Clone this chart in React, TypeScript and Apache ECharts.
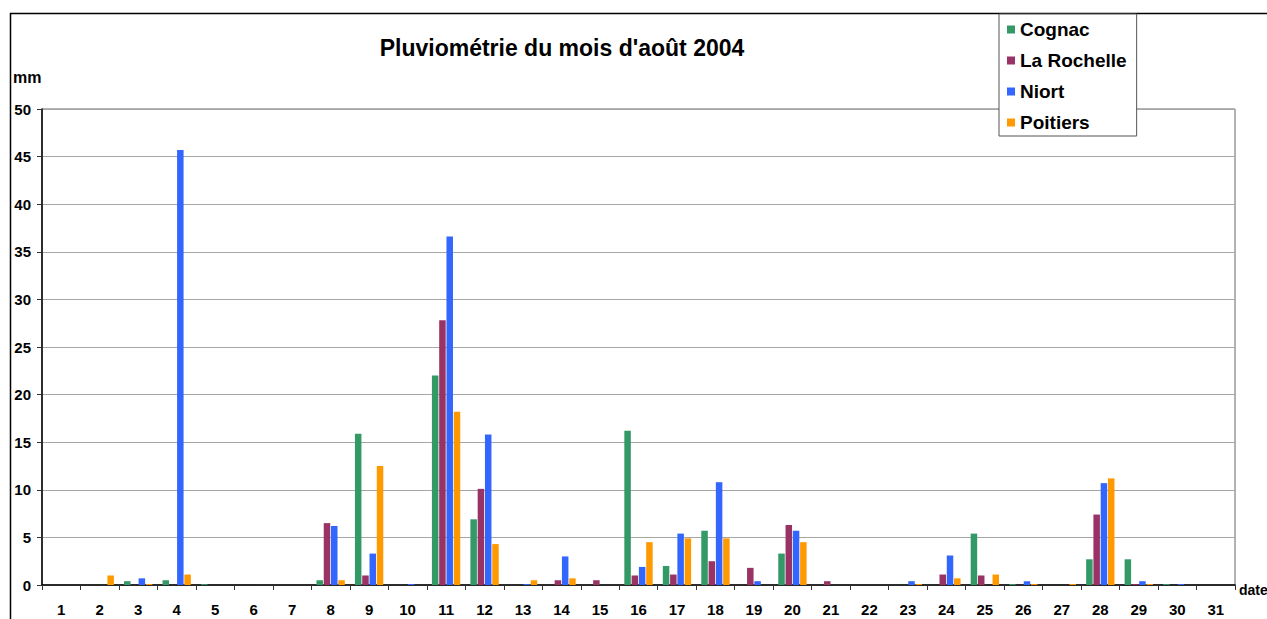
import React, { useEffect, useRef } from "react";
import * as echarts from "echarts";

const days = ["1","2","3","4","5","6","7","8","9","10","11","12","13","14","15","16","17","18","19","20","21","22","23","24","25","26","27","28","29","30","31"];
const cognac =    [0, 0, 0.4, 0.5, 0.1, 0, 0, 0.5, 15.9, 0, 22.0, 6.9, 0, 0, 0, 16.2, 2.0, 5.7, 0, 3.3, 0, 0, 0, 0, 5.4, 0.1, 0, 2.7, 2.7, 0.1, 0];
const laRochelle = [0, 0, 0, 0, 0, 0, 0, 6.5, 1.0, 0, 27.8, 10.1, 0, 0.5, 0.5, 1.0, 1.1, 2.5, 1.8, 6.3, 0.4, 0, 0, 1.1, 1.0, 0, 0, 7.4, 0.1, 0, 0];
const niort =     [0, 0, 0.7, 45.7, 0, 0, 0, 6.2, 3.3, 0.1, 36.6, 15.8, 0.1, 3.0, 0, 1.9, 5.4, 10.8, 0.4, 5.7, 0, 0, 0.4, 3.1, 0, 0.4, 0, 10.7, 0.4, 0.1, 0];
const poitiers =  [0, 1.0, 0.1, 1.1, 0, 0, 0, 0.5, 12.5, 0, 18.2, 4.3, 0.5, 0.7, 0, 4.5, 4.9, 4.9, 0, 4.5, 0, 0, 0.1, 0.7, 1.1, 0.1, 0.1, 11.2, 0.1, 0, 0];
const seriesNames = ["Cognac", "La Rochelle", "Niort", "Poitiers"];
const seriesColors = ["#339966", "#993366", "#3366FF", "#FF9900"];
const yTicks = { min: 0, max: 50, interval: 5 };
const titleText = "Pluviométrie du mois d'août 2004";

const FONT = "'Liberation Sans', Arial, sans-serif";

export default function App() {
  const ref = useRef<HTMLDivElement>(null);
  useEffect(() => {
    if (!ref.current) return;
    const chart = echarts.init(ref.current, null, { renderer: "svg" });
    const values = [cognac, laRochelle, niort, poitiers];
    chart.setOption({
      animation: false,
      backgroundColor: "#fff",
      textStyle: { fontFamily: FONT },
      grid: {
        left: 42, top: 109, width: 1193, height: 476,
        show: true, borderColor: "#666", borderWidth: 1, backgroundColor: "transparent",
      },
      legend: {
        orient: "vertical", left: 999, top: 14,
        itemWidth: 8, itemHeight: 8, icon: "rect", itemGap: 12,
        padding: [6, 10, 4, 8],
        backgroundColor: "#fff", borderColor: "#555", borderWidth: 1,
        textStyle: { fontFamily: FONT, fontWeight: "bold", fontSize: 19, lineHeight: 18.5, color: "#000" },
        data: seriesNames,
      },
      xAxis: {
        type: "category", data: days,
        axisLine: { lineStyle: { color: "#000", width: 1.5 } },
        axisTick: { show: true, alignWithLabel: false, length: 5, lineStyle: { color: "#333" } },
        axisLabel: { interval: 0, margin: 17, fontFamily: FONT, fontWeight: "bold", fontSize: 15, color: "#000" },
        splitLine: { show: false },
      },
      yAxis: {
        type: "value", min: yTicks.min, max: yTicks.max, interval: yTicks.interval,
        axisLine: { show: true, lineStyle: { color: "#000", width: 1.5 } },
        axisTick: { show: true, length: 5, lineStyle: { color: "#333" } },
        axisLabel: { margin: 11, fontFamily: FONT, fontWeight: "bold", fontSize: 15, color: "#000" },
        splitLine: { show: true, lineStyle: { color: "#a6a6a6", width: 1 } },
      },
      graphic: [
        { type: "rect", z: -10, shape: { x: 10.5, y: 13.5, width: 1400, height: 800 }, style: { fill: "none", stroke: "#000", lineWidth: 1.5 } },
        { type: "text", x: 562, y: 48, style: { text: titleText, fontFamily: FONT, fontWeight: "bold", fontSize: 23, fill: "#000", align: "center", verticalAlign: "middle" } },
        { type: "text", x: 13, y: 77, style: { text: "mm", fontFamily: FONT, fontWeight: "bold", fontSize: 16, fill: "#000", align: "left", verticalAlign: "middle" } },
        { type: "text", x: 1239, y: 590, style: { text: "date", fontFamily: FONT, fontWeight: "bold", fontSize: 14, fill: "#000", align: "left", verticalAlign: "middle" } },
      ],
      series: seriesNames.map((name, i) => ({
        name, type: "bar", data: values[i],
        barWidth: 6.5, barGap: "12%",
        itemStyle: { color: seriesColors[i] },
      })),
    });
    return () => chart.dispose();
  }, []);
  return <div ref={ref} style={{ position: "absolute", left: 0, top: 0, width: 1267, height: 619 }} />;
}
